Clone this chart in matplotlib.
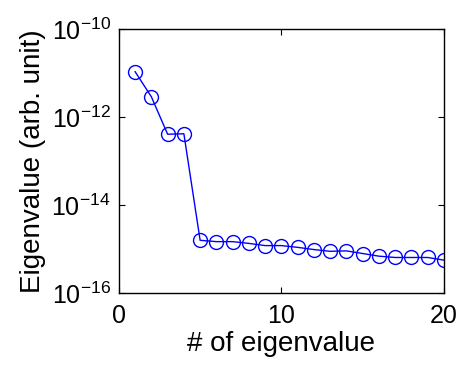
import numpy as np
import matplotlib
matplotlib.use("Agg")
import matplotlib.pyplot as plt
from matplotlib.ticker import FixedLocator, FuncFormatter, NullLocator

plt.rcParams["font.family"] = ["Liberation Sans", "DejaVu Sans"]
plt.rcParams["mathtext.fontset"] = "custom"
plt.rcParams["mathtext.rm"] = "Liberation Sans"
plt.rcParams["mathtext.default"] = "regular"

# --- Data (log10 of eigenvalues) ---
eig_index = np.arange(1, 21)
log_eig = [-10.97, -11.54, -12.39, -12.38, -14.80, -14.83, -14.83, -14.87, -14.92, -14.92,
           -14.96, -15.01, -15.05, -15.04, -15.10, -15.16, -15.19, -15.19, -15.19, -15.25]
eigenvalues = 10.0 ** np.array(log_eig)

x_ticks = [0, 10, 20]
y_ticks = [1e-16, 1e-14, 1e-12, 1e-10]

fig = plt.figure(figsize=(4.59, 3.72), dpi=100)
ax = fig.add_axes([0.259, 0.212, 0.708, 0.710])

ax.plot(eig_index, eigenvalues, color="#0000ff", lw=1.0, marker="o", ms=10,
        mfc="none", mec="#0000ff", mew=1.0)

ax.set_yscale("log")
ax.set_xlim(0, 20)
ax.set_ylim(1e-16, 1e-10)
ax.xaxis.set_major_locator(FixedLocator(x_ticks))
ax.yaxis.set_major_locator(FixedLocator(y_ticks))
ax.yaxis.set_minor_locator(NullLocator())
ax.yaxis.set_major_formatter(FuncFormatter(
    lambda v, p: r"$10^{%d}$" % int(round(np.log10(v)))))

ax.tick_params(direction="in", length=4, width=0.8, top=True, right=True,
               labelsize=18)
ax.tick_params(axis="x", pad=8)
ax.tick_params(axis="y", pad=6)
for s in ax.spines.values():
    s.set_linewidth(1.0)

ax.set_xlabel("# of eigenvalue", fontsize=20, labelpad=2)
ax.set_ylabel("Eigenvalue (arb. unit)", fontsize=20, labelpad=4)

fig.savefig("out.png", dpi=100)
